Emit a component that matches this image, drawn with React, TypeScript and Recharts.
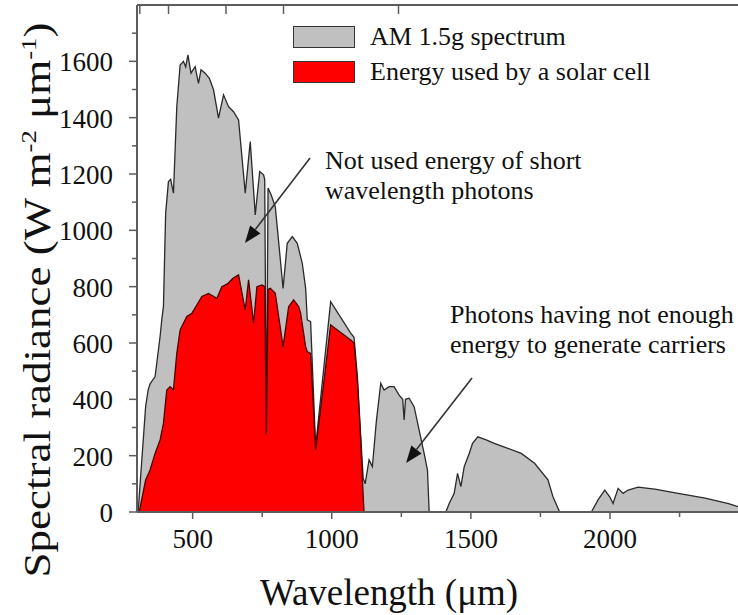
import React from 'react';
import { AreaChart, Area, XAxis, YAxis, Legend, ReferenceLine, Customized } from 'recharts';

// AM 1.5g spectral irradiance: [wavelength (nm), W m-2 um-1]
const am15Spectrum: [number, number][] = [
  [304, 0], [331, 374], [340, 433], [347, 455], [365, 481], [371, 528], [383, 623], [389, 682],
  [395, 730], [403, 1061], [413, 1173], [421, 1181], [431, 1132], [443, 1439], [455, 1587],
  [467, 1600], [475, 1580], [483, 1623], [494, 1558], [509, 1581], [521, 1522], [530, 1570],
  [545, 1558], [560, 1540], [575, 1499], [593, 1398], [611, 1481], [629, 1439], [647, 1421],
  [665, 1392], [689, 1132], [707, 1315], [725, 1055], [741, 1209], [755, 1197], [759, 1180],
  [765, 280], [771, 1150], [782, 1126], [797, 1084], [825, 794], [840, 954], [858, 978],
  [876, 954], [894, 883], [906, 795], [912, 682], [924, 676], [942, 232], [996, 747],
  [1068, 635], [1080, 620], [1092, 480], [1104, 270], [1113, 120], [1120, 100], [1134, 185],
  [1146, 161], [1160, 320], [1176, 457], [1188, 433], [1206, 445], [1224, 445], [1242, 415],
  [1255, 400], [1260, 327], [1265, 400], [1278, 404], [1296, 374], [1314, 291], [1332, 208],
  [1344, 149], [1350, 0], [1410, 0], [1422, 30], [1440, 66], [1452, 137], [1464, 90],
  [1476, 161], [1494, 208], [1506, 244], [1525, 267], [1555, 256], [1584, 244], [1633, 226],
  [1681, 208], [1729, 173], [1777, 114], [1795, 54], [1819, 0], [1933, 0], [1957, 43],
  [1981, 78], [1999, 54], [2011, 30], [2029, 84], [2047, 66], [2065, 78], [2101, 88],
  [2161, 81], [2245, 66], [2342, 49], [2426, 30], [2460, 19],
];

// Part of the spectrum converted by a silicon cell: [wavelength (nm), W m-2 um-1]
const usedSpectrum: [number, number][] = [
  [308, 0], [331, 114], [347, 149], [365, 208], [383, 256], [395, 315], [407, 433], [419, 445],
  [431, 433], [443, 563], [455, 646], [479, 694], [497, 705], [515, 735], [533, 765], [557, 776],
  [587, 759], [605, 800], [625, 810], [645, 830], [665, 842], [689, 717], [701, 824], [719, 670],
  [731, 800], [749, 806], [759, 800], [765, 275], [771, 790], [779, 794], [797, 776], [825, 587],
  [845, 729], [863, 753], [881, 729], [888, 706], [906, 587], [912, 569], [924, 563], [942, 220],
  [996, 664], [1068, 611], [1080, 600], [1092, 469], [1104, 256], [1113, 54], [1116, 0],
];

const wavelengthTicks = [500, 750, 1000, 1250, 1500, 1750, 2000, 2250];
const radianceTicks = [0, 100, 200, 300, 400, 500, 600, 700, 800, 900, 1000, 1100, 1200, 1300, 1400, 1500, 1600, 1700];
// photon energies (eV) marked along the top edge
const energyTicks = [4, 3, 2, 1.5, 1];

const series = [
  { key: 'am15', name: 'AM 1.5g spectrum', fill: '#c0c0c0', stroke: '#2a2a2a' },
  { key: 'used', name: 'Energy used by a solar cell', fill: '#ff0000', stroke: '#4a0000' },
];

const SERIF = "'Liberation Serif'";
const AXIS = '#5c5c5c';
const INK = '#111';

const am15Map = new Map(am15Spectrum);
const usedMap = new Map(usedSpectrum);
const rows = Array.from(new Set([...am15Spectrum.map((p) => p[0]), ...usedSpectrum.map((p) => p[0])]))
  .sort((a, b) => a - b)
  .map((wl) => ({ wl, am15: am15Map.get(wl) ?? null, used: usedMap.get(wl) ?? null }));

const WavelengthTick = (props: any) => {
  const { x, y, payload } = props;
  const major = payload.value % 500 === 0;
  return (
    <g>
      <line x1={x} x2={x} y1={y} y2={y + (major ? 7 : 5)} stroke={AXIS} strokeWidth={1.5} />
      {major && (
        <text x={x} y={y + 36} textAnchor="middle" style={{ fontFamily: SERIF }} fontSize={27} fill={INK}>
          {payload.value}
        </text>
      )}
    </g>
  );
};

const RadianceTick = (props: any) => {
  const { x, y, payload } = props;
  const major = payload.value % 200 === 0;
  return (
    <g>
      <line x1={x - (major ? 8 : 5)} x2={x} y1={y} y2={y} stroke={AXIS} strokeWidth={1.5} />
      {major && (
        <text x={x - 24} y={y + 10} textAnchor="end" style={{ fontFamily: SERIF }} fontSize={27} fill={INK}>
          {payload.value}
        </text>
      )}
    </g>
  );
};

const EnergyTick = (props: any) => {
  const { x, y } = props;
  return <line x1={x} x2={x} y1={y} y2={y + 9} stroke={AXIS} strokeWidth={1.5} />;
};

const Arrow = (props: any) => {
  const { x1, y1, x2, y2 } = props;
  const dx = x2 - x1;
  const dy = y2 - y1;
  const len = Math.hypot(dx, dy);
  const ux = dx / len;
  const uy = dy / len;
  const head = 17;
  const half = 6.5;
  const bx = x2 - ux * head;
  const by = y2 - uy * head;
  const pts = `${x2},${y2} ${bx - uy * half},${by + ux * half} ${bx + uy * half},${by - ux * half}`;
  return (
    <g>
      <line x1={x1} y1={y1} x2={bx} y2={by} stroke="#333" strokeWidth={1.6} />
      <polygon points={pts} fill="#111" />
    </g>
  );
};

const Texts = () => (
  <g fill={INK}>
    <text
      x={50}
      y={300}
      transform="rotate(-90 50 300)"
      textAnchor="middle"
      style={{ fontFamily: SERIF }}
      fontSize={37}
      textLength={555}
      lengthAdjust="spacingAndGlyphs"
    >
      Spectral radiance (W m
      <tspan dy={-14} fontSize={22}>-2</tspan>
      <tspan dy={14}> μm</tspan>
      <tspan dy={-14} fontSize={22}>-1</tspan>
      <tspan dy={14}>)</tspan>
    </text>
    <text x={260} y={605} style={{ fontFamily: SERIF }} fontSize={37} textLength={258} lengthAdjust="spacingAndGlyphs">
      Wavelength (μm)
    </text>
    <text x={325} y={169} style={{ fontFamily: SERIF }} fontSize={26}>Not used energy of short</text>
    <text x={325} y={199} style={{ fontFamily: SERIF }} fontSize={26}>wavelength photons</text>
    <text x={450} y={323} style={{ fontFamily: SERIF }} fontSize={26}>Photons having not enough</text>
    <text x={450} y={353} style={{ fontFamily: SERIF }} fontSize={26}>energy to generate carriers</text>
  </g>
);

const LegendBox = () => (
  <div style={{ fontFamily: SERIF, fontSize: 26, color: INK, lineHeight: '30px' }}>
    {series.map((s) => (
      <div key={s.key} style={{ display: 'flex', alignItems: 'center', height: 35 }}>
        <span
          style={{
            display: 'inline-block',
            width: 62,
            height: 22,
            boxSizing: 'border-box',
            background: s.fill,
            border: '1.5px solid #333',
            marginRight: 15,
          }}
        />
        <span style={{ whiteSpace: 'nowrap', fontFamily: SERIF }}>{s.name}</span>
      </div>
    ))}
  </div>
);

export default function App() {
  return (
    <div style={{ position: 'absolute', left: 0, top: 0, width: 738, height: 615, background: '#fff' }}>
      <AreaChart width={738} height={615} data={rows} margin={{ top: 0, right: 0, bottom: 0, left: 0 }}>
        <XAxis
          dataKey="wl"
          type="number"
          domain={[300, 2460]}
          allowDataOverflow
          ticks={wavelengthTicks}
          interval={0}
          height={103}
          tickSize={0}
          tickMargin={0}
          tickLine={false}
          axisLine={{ stroke: AXIS, strokeWidth: 2 }}
          tick={<WavelengthTick />}
        />
        <XAxis
          xAxisId="top"
          orientation="top"
          dataKey="wl"
          type="number"
          domain={[300, 2460]}
          allowDataOverflow
          ticks={energyTicks.map((e) => 1239.84 / e)}
          interval={0}
          height={5}
          tickSize={0}
          tickMargin={0}
          tickLine={false}
          axisLine={{ stroke: AXIS, strokeWidth: 2 }}
          tick={<EnergyTick />}
        />
        <YAxis
          type="number"
          domain={[0, 1800]}
          allowDataOverflow
          ticks={radianceTicks}
          interval={0}
          width={137}
          tickSize={0}
          tickMargin={0}
          tickLine={false}
          axisLine={{ stroke: AXIS, strokeWidth: 2 }}
          tick={<RadianceTick />}
        />
        {series.map((s) => (
          <Area
            key={s.key}
            type="linear"
            dataKey={s.key}
            name={s.name}
            fill={s.fill}
            fillOpacity={1}
            stroke={s.stroke}
            strokeWidth={1.3}
            connectNulls
            dot={false}
            activeDot={false}
            isAnimationActive={false}
          />
        ))}
        <ReferenceLine segment={[{ x: 922, y: 1257 }, { x: 688, y: 955 }]} shape={<Arrow />} />
        <ReferenceLine segment={[{ x: 1504, y: 476 }, { x: 1267, y: 174 }]} shape={<Arrow />} />
        <Customized component={<Texts />} />
        <Legend
          layout="vertical"
          align="center"
          verticalAlign="middle"
          wrapperStyle={{ left: 293, top: 19, width: 420, height: 70 }}
          content={<LegendBox />}
        />
      </AreaChart>
    </div>
  );
}
